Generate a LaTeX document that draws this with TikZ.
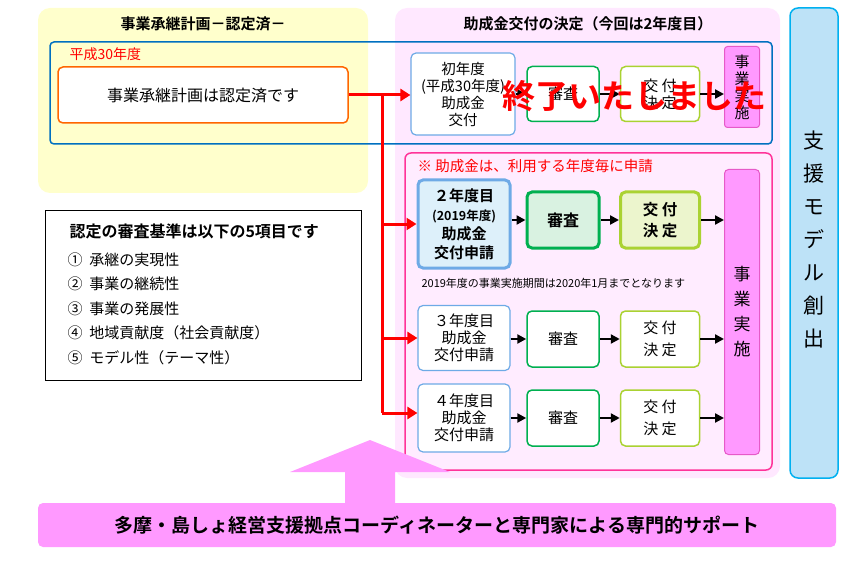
\documentclass[tikz,border=0pt]{standalone}
\usepackage{fontspec}
\setmainfont{Noto Sans CJK JP}[BoldFont={Noto Sans CJK JP Bold}]
\usetikzlibrary{arrows.meta}
\definecolor{ylw}{RGB}{255,255,204}
\definecolor{pk}{RGB}{255,232,255}
\definecolor{pkin}{RGB}{255,236,255}
\definecolor{pkb}{RGB}{255,51,153}
\definecolor{mag}{RGB}{255,153,255}
\definecolor{mabd}{RGB}{230,90,200}
\definecolor{bl}{RGB}{0,112,192}
\definecolor{lb}{RGB}{110,170,230}
\definecolor{lbfill}{RGB}{221,240,250}
\definecolor{gr}{RGB}{0,176,80}
\definecolor{grfill}{RGB}{217,242,225}
\definecolor{yg}{RGB}{170,210,50}
\definecolor{ygfill}{RGB}{236,245,205}
\definecolor{sky}{RGB}{189,226,247}
\definecolor{skyb}{RGB}{0,176,240}
\definecolor{org}{RGB}{255,102,0}
\begin{document}
\begin{tikzpicture}[x=1pt,y=-1pt,
  box/.style={draw,rounded corners=5pt,fill=white,align=center,inner sep=0pt,font=\fontsize{15}{17}\selectfont},
  ar/.style={-{Triangle[length=9pt,width=9pt]},line width=2.4pt},
  rar/.style={-{Triangle[length=10pt,width=12pt]},line width=3pt,red}]
\useasboundingbox (0,0) rectangle (850,561);
% backgrounds
\path[fill=ylw,rounded corners=12pt] (38,8) rectangle (368,193);
\path[fill=pk,rounded corners=12pt] (395,8) rectangle (780,478);
\node[font=\bfseries\fontsize{15}{17}\selectfont] (t1) at (203,24) {事業承継計画－認定済－};
\node[font=\bfseries\fontsize{15}{17}\selectfont] (t2) at (588,24) {助成金交付の決定（今回は2年度目）};
\draw[bl,line width=1.5pt,rounded corners=4pt] (50,42) rectangle (772,144);
\node[red,anchor=west,font=\fontsize{14}{16}\selectfont] (h30) at (66,54) {平成30年度};
\node[box,draw=org,line width=1.5pt,minimum width=290pt,minimum height=56pt,font=\fontsize{16}{18}\selectfont] (plan) at (203,95) {事業承継計画は認定済です};
% right column
\node[draw=skyb,fill=sky,line width=1.5pt,rounded corners=8pt,minimum width=48pt,minimum height=470pt,inner sep=0pt] (col) at (814,243) {};
\node[align=center,font=\fontsize{21}{33}\selectfont] (colt) at (814,240) {支\\援\\モ\\デ\\ル\\創\\出};
% row 1
\node[box,draw=lb,line width=1.2pt,minimum width=104pt,minimum height=82pt,font=\fontsize{14.5}{17}\selectfont] (r1a) at (463,94) {初年度\\(平成30年度)\\助成金\\交付};
\node[box,draw=gr,line width=1.5pt,minimum width=72pt,minimum height=55pt] (r1b) at (563,94) {審査};
\node[box,draw=yg,line width=1.5pt,minimum width=79pt,minimum height=55pt] (r1c) at (660,94) {交 付\\決 定};
\node[box,draw=mabd,fill=mag,line width=1pt,rounded corners=3pt,minimum width=35pt,minimum height=81pt,font=\fontsize{15}{17}\selectfont] (r1d) at (742,87) {事\\業\\実\\施};
\draw[ar] (r1a) -- (r1b);
\draw[ar] (r1b) -- (r1c);
\draw[ar] (r1c.east) -- (r1d.west|-r1c.east);
\node[red,font=\bfseries\fontsize{33}{35}\selectfont] (end) at (634,96) {終了いたしました};
% inner pink
\draw[pkb,fill=pkin,line width=1.5pt,rounded corners=6pt] (405,153) rectangle (772,470);
\node[red,anchor=west,font=\fontsize{14.5}{16}\selectfont] (note1) at (414,166) {※ 助成金は、利用する年度毎に申請};
\node[box,draw=mabd,fill=mag,line width=1pt,rounded corners=4pt,minimum width=35pt,minimum height=285pt,font=\fontsize{17}{25}\selectfont] (r2d) at (742,312) {事\\業\\実\\施};
% row 2
\node[box,draw=lb,fill=lbfill,line width=3pt,minimum width=92pt,minimum height=88pt,font=\bfseries\fontsize{15}{19}\selectfont] (r2a) at (464,224) {２年度目\\{\fontsize{12.5}{14}\selectfont(2019年度)}\\助成金\\交付申請};
\node[box,draw=gr,fill=grfill,line width=3pt,minimum width=72pt,minimum height=56pt,font=\bfseries\fontsize{16}{18}\selectfont] (r2b) at (563,220) {審査};
\node[box,draw=yg,fill=ygfill,line width=3pt,minimum width=79pt,minimum height=56pt,font=\bfseries\fontsize{15.5}{21}\selectfont] (r2c) at (660,220) {交 付\\決 定};
\draw[ar] (r2a.east|-r2b) -- (r2b);
\draw[ar] (r2b) -- (r2c);
\draw[ar] (r2c.east) -- (r2d.west|-r2c.east);
\node[anchor=west,font=\fontsize{11}{12}\selectfont] (note2) at (418,283) {2019年度の事業実施期間は2020年1月までとなります};
% row 3
\node[box,draw=lb,line width=1.2pt,minimum width=92pt,minimum height=65pt] (r3a) at (464,338) {３年度目\\助成金\\交付申請};
\node[box,draw=gr,line width=1.5pt,minimum width=72pt,minimum height=56pt] (r3b) at (563,339) {審査};
\node[box,draw=yg,line width=1.5pt,minimum width=79pt,minimum height=56pt,font=\fontsize{15}{22}\selectfont] (r3c) at (660,339) {交 付\\決 定};
\draw[ar] (r3a.east|-r3b) -- (r3b);
\draw[ar] (r3b) -- (r3c);
\draw[ar] (r3c.east) -- (r2d.west|-r3c.east);
% row 4
\node[box,draw=lb,line width=1.2pt,minimum width=92pt,minimum height=68pt] (r4a) at (464,418) {４年度目\\助成金\\交付申請};
\node[box,draw=gr,line width=1.5pt,minimum width=72pt,minimum height=56pt] (r4b) at (563,418) {審査};
\node[box,draw=yg,line width=1.5pt,minimum width=79pt,minimum height=56pt,font=\fontsize{15}{22}\selectfont] (r4c) at (660,418) {交 付\\決 定};
\draw[ar] (r4a.east|-r4b) -- (r4b);
\draw[ar] (r4b) -- (r4c);
\draw[ar] (r4c.east) -- (r2d.west|-r4c.east);
% red connectors
\coordinate (jn) at (382,95);
\coordinate (jb) at (382,413);
\coordinate (j2) at (382,224);
\coordinate (j3) at (382,338);
\draw[rar] (plan.east|-jn) -- (r1a.west|-jn);
\draw[line width=3pt,red] (jn) -- (jb);
\draw[rar] (j2) -- (r2a.west|-j2);
\draw[rar] (j3) -- (r3a.west|-j3);
\draw[rar] (jb) -- (r4a.west|-jb);
% criteria
\draw[line width=0.8pt] (45,210) rectangle (361,380);
\node[anchor=west,font=\bfseries\fontsize{16}{18}\selectfont] (crt) at (66,231) {認定の審査基準は以下の5項目です};
\node[anchor=north west,align=left,font=\fontsize{15}{24.5}\selectfont] (crl) at (64,249) {①\ \ 承継の実現性\\②\ \ 事業の継続性\\③\ \ 事業の発展性\\④\ \ 地域貢献度（社会貢献度）\\⑤\ \ モデル性（テーマ性）};
% big arrow
\path[fill=mag] (345,503) -- (345,472) -- (290,472) -- (370,440) -- (450,472) -- (395,472) -- (395,503) -- cycle;
\node[fill=mag,rounded corners=5pt,minimum width=798pt,minimum height=44pt,inner sep=0pt,font=\bfseries\fontsize{19}{21}\selectfont] (sup) at (437,525) {多摩・島しょ経営支援拠点コーディネーターと専門家による専門的サポート};
\end{tikzpicture}
\end{document}
